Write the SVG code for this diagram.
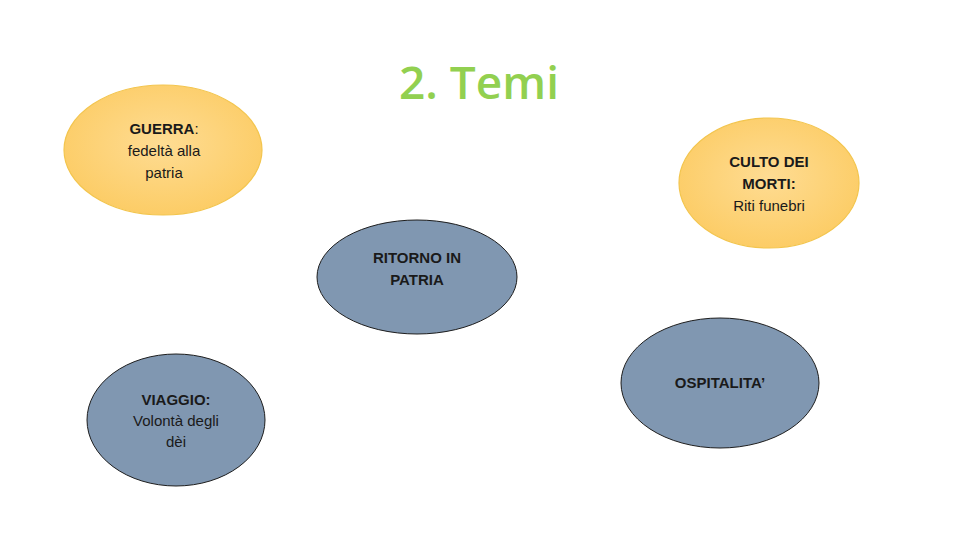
<svg xmlns="http://www.w3.org/2000/svg" width="960" height="540" viewBox="0 0 960 540">
<defs>
<radialGradient id="yg" cx="50%" cy="45%" r="60%">
<stop offset="0" stop-color="#fedc93"/>
<stop offset="1" stop-color="#fccb62"/>
</radialGradient>
<style>
.y{fill:url(#yg);stroke:#f3c54e;stroke-width:1.2}
.b{fill:#8097b1;stroke:#1e1e1e;stroke-width:1}
.t{font-family:"Liberation Sans",Arial,sans-serif;font-size:15px;fill:#1a1a1a;text-anchor:middle}
.k{font-weight:bold}
.title{font-family:"Open Sans","Noto Sans",sans-serif;font-size:46px;fill:#92d050;text-anchor:middle;font-weight:600}
</style>
</defs>
<rect width="960" height="540" fill="#ffffff"/>
<text class="title" x="479" y="99">2. Temi</text>
<g id="connectors"/>
<g id="guerra">
<ellipse class="y" cx="163" cy="150" rx="99" ry="65"/>
<text class="t" x="164" y="134"><tspan class="k">GUERRA</tspan>:</text>
<text class="t" x="164" y="156">fedeltà alla</text>
<text class="t" x="164" y="178">patria</text>
</g>
<g id="culto">
<ellipse class="y" cx="769" cy="183" rx="90" ry="65"/>
<text class="t k" x="769" y="167">CULTO DEI</text>
<text class="t k" x="769" y="189">MORTI:</text>
<text class="t" x="769" y="211">Riti funebri</text>
</g>
<g id="ritorno">
<ellipse class="b" cx="417" cy="277" rx="100" ry="57"/>
<text class="t k" x="417" y="263">RITORNO IN</text>
<text class="t k" x="417" y="285">PATRIA</text>
</g>
<g id="viaggio">
<ellipse class="b" cx="176" cy="420" rx="89" ry="66"/>
<text class="t k" x="176" y="405">VIAGGIO:</text>
<text class="t" x="176" y="426">Volontà degli</text>
<text class="t" x="176" y="447">dèi</text>
</g>
<g id="ospitalita">
<ellipse class="b" cx="720" cy="383" rx="99" ry="65"/>
<text class="t k" x="720" y="388">OSPITALITA’</text>
</g>
</svg>
